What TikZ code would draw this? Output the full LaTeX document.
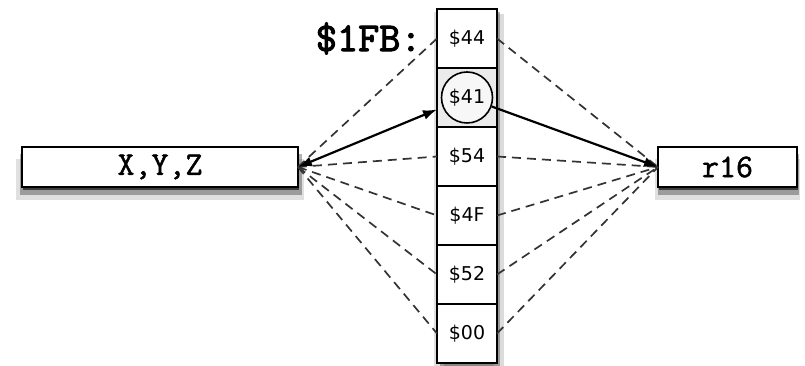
\documentclass[tikz,border=0pt]{standalone}
\usepackage{fontspec}
\newfontfamily\typefont[FakeBold=1.4]{Latin Modern Mono}
\newfontfamily\addrfont[FakeBold=2.6]{Latin Modern Mono}
\newfontfamily\cellfont{DejaVu Sans}
\usepackage{tikz}
\usetikzlibrary{arrows.meta,shadows}
\usetikzlibrary{positioning}

\begin{document}
\begin{tikzpicture}[x=1pt,y=1pt,
  tip/.tip={Latex[length=14pt,width=10pt]},
  cell/.style={draw,line width=1.6pt,fill=white,minimum width=60pt,minimum height=59pt,
    outer sep=0pt,text=black,font=\cellfont\fontsize{19}{19}\selectfont},
  soft/.style={drop shadow={shadow xshift=1pt,shadow yshift=-3pt,opacity=.6,fill=black},
    drop shadow={shadow xshift=1pt,shadow yshift=-7pt,shadow scale=1.02,opacity=.3,fill=black},
    drop shadow={shadow xshift=0pt,shadow yshift=-12pt,shadow scale=1.04,opacity=.12,fill=black}},
  reg/.style={draw,line width=2pt,fill=white,minimum height=40pt,outer sep=0pt,
    font=\typefont\fontsize{33}{33}\selectfont,soft},
  guess/.style={dash pattern=on 9pt off 6pt,line width=1.7pt,black!80},
  pick/.style={line width=2.2pt}]
\useasboundingbox (0,0) rectangle (805,366);
% shadow behind the memory column
\path[fill=white,drop shadow={shadow xshift=3pt,shadow yshift=-3pt,opacity=.3,fill=black},
  drop shadow={shadow xshift=7pt,shadow yshift=-5pt,opacity=.14,fill=black},
  drop shadow={shadow xshift=-3pt,shadow yshift=-3pt,opacity=.12,fill=black}]
  (437,3) rectangle (497,357);
% memory column
\node[cell] (m1) at (467,327.5) {\$44};
\foreach \val [count=\i from 1,evaluate=\i as\j using int(\i+1)] in {\$41,\$54,\$4F,\$52,\$00}
  \node[cell,below=0pt of m\i] (m\j) {\val};
\node[cell,fill=black!8] at (m2) {\$41};
\node[circle,draw,fill=black!3,line width=1.6pt,minimum size=51pt,font=\cellfont\fontsize{19}{19}\selectfont] (ring) at (m2) {\$41};
\node[left=12pt of m1,font=\addrfont\fontsize{41}{41}\selectfont] (addr) {\$1FB:};
% registers
\node[reg,minimum width=276pt] (xyz) at (160,199) {X,Y,Z};
\node[reg,minimum width=139pt] (r16) at (727.5,199) {r16};
% possible paths
\foreach \j in {1,3,4,5,6}
  \draw[guess] (xyz.east) -- (m\j.west) (m\j.east) -- (r16.west);
% chosen path
\draw[pick,tip-tip] (xyz.east) -- ([yshift=-12pt]m2.west);
\draw[pick,-tip] (ring.-20) -- (r16.west);
\end{tikzpicture}
\end{document}
